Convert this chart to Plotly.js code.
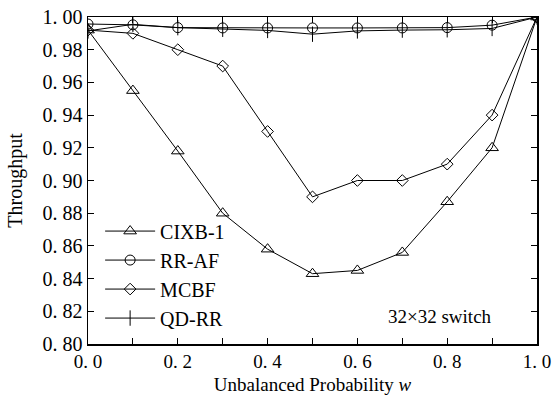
<!DOCTYPE html>
<html>
<head>
<meta charset="utf-8">
<script src="https://cdn.plot.ly/plotly-3.0.1.min.js"></script>
<style>html,body{margin:0;padding:0;background:#fff}#chart{width:553px;height:398px}</style>
</head>
<body>
<div id="chart"></div>
<script>
const w = [0.0, 0.1, 0.2, 0.3, 0.4, 0.5, 0.6, 0.7, 0.8, 0.9, 1.0];
const cixb1 = [0.992, 0.955, 0.918, 0.880, 0.858, 0.843, 0.845, 0.856, 0.887, 0.920, 1.000];
const rraf  = [0.9957, 0.9952, 0.9935, 0.9933, 0.9933, 0.9933, 0.9933, 0.9933, 0.9935, 0.995, 1.000];
const mcbf  = [0.992, 0.990, 0.980, 0.970, 0.930, 0.890, 0.900, 0.900, 0.910, 0.940, 1.000];
const qdrr  = [0.9915, 0.9955, 0.9935, 0.9925, 0.9918, 0.9895, 0.9915, 0.992, 0.9922, 0.993, 1.000];
const xTickVals = [0, 0.2, 0.4, 0.6, 0.8, 1.0];
const xTickText = ['0. 0', '0. 2', '0. 4', '0. 6', '0. 8', '1. 0'];
const yTickVals = [0.80, 0.82, 0.84, 0.86, 0.88, 0.90, 0.92, 0.94, 0.96, 0.98, 1.00];
const yTickText = ['0. 80', '0. 82', '0. 84', '0. 86', '0. 88', '0. 90', '0. 92', '0. 94', '0. 96', '0. 98', '1. 00'];

const F = '"Liberation Serif", "Times New Roman", serif';
const line = {color: '#000', width: 1};
const traces = [
  {name: 'CIXB-1', x: w, y: cixb1, mode: 'lines+markers', line: line,
   marker: {symbol: 'triangle-up-open', size: 11, color: '#000', line: {width: 1}}},
  {name: 'RR-AF', x: w, y: rraf, mode: 'lines+markers', line: line,
   marker: {symbol: 'circle-open', size: 10, color: '#000', line: {width: 1}}},
  {name: 'MCBF', x: w, y: mcbf, mode: 'lines+markers', line: line,
   marker: {symbol: 'diamond-open', size: 9, color: '#000', line: {width: 1}}},
  {name: 'QD-RR', x: w, y: qdrr, mode: 'lines+markers', line: line,
   marker: {symbol: 'line-ns-open', size: 11, color: '#000', line: {width: 1}}}
];
const layout = {
  width: 553, height: 398,
  margin: {l: 88, r: 16, t: 17, b: 54},
  paper_bgcolor: '#fff', plot_bgcolor: '#fff',
  font: {family: F, color: '#000', size: 19},
  showlegend: true,
  legend: {x: 0.027, y: 0.405, xanchor: 'left', yanchor: 'top', bgcolor: 'rgba(0,0,0,0)',
           font: {family: F, size: 20, color: '#000'}, tracegroupgap: 0, itemwidth: 50},
  xaxis: {range: [0, 1.0], tickvals: xTickVals, ticktext: xTickText, ticks: 'inside', ticklen: 6,
          tickcolor: '#000', showline: true, linecolor: '#000', linewidth: 1.5, mirror: 'ticks',
          showgrid: false, zeroline: false, tickfont: {family: F, size: 19},
          minor: {dtick: 0.1, tick0: 0, ticks: 'inside', ticklen: 6, tickcolor: '#000', showgrid: false},
          automargin: false,
          title: {text: 'Unbalanced Probability <i>w</i>', font: {family: F, size: 19}, standoff: 6}},
  yaxis: {range: [0.80, 1.00], tickvals: yTickVals, ticktext: yTickText, ticks: 'inside', ticklen: 6,
          tickcolor: '#000', showline: true, linecolor: '#000', linewidth: 1.5, mirror: 'ticks',
          showgrid: false, zeroline: false, tickfont: {family: F, size: 20}, automargin: false,
          title: {text: 'Throughput', font: {family: F, size: 20}, standoff: 14}},
  annotations: [{x: 0.785, y: 0.817, xref: 'x', yref: 'y', text: '32×32 switch', showarrow: false,
                 font: {family: F, size: 19, color: '#000'}}]
};
Plotly.newPlot('chart', traces, layout, {displayModeBar: false, staticPlot: true});
</script>
</body>
</html>
